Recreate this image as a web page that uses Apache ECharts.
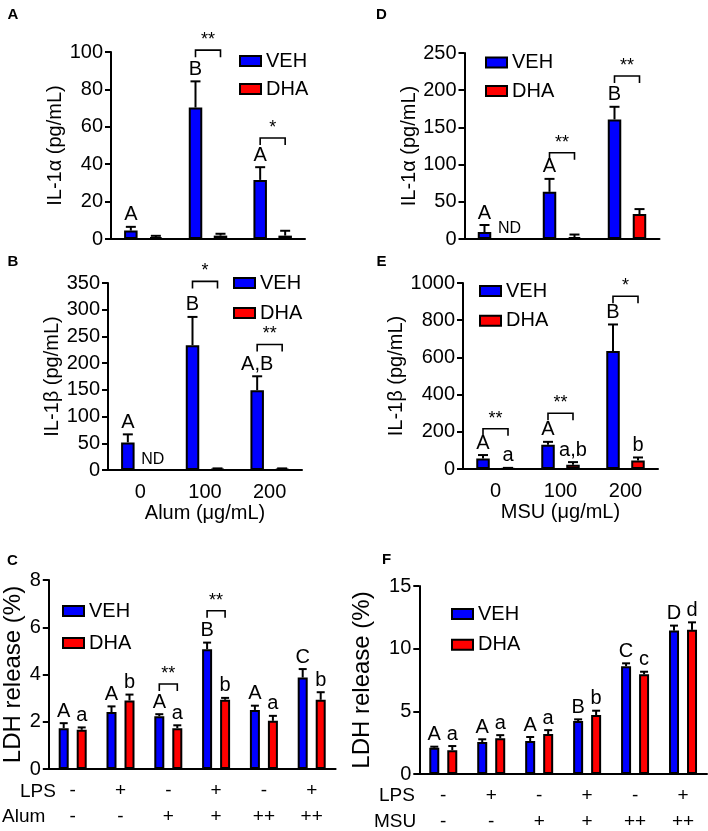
<!DOCTYPE html>
<html><head><meta charset="utf-8">
<script src="https://cdn.jsdelivr.net/npm/echarts@6/dist/echarts.min.js"></script>
<style>html,body{margin:0;padding:0;background:#fff}#c{width:708px;height:831px}</style>
</head><body><div id="c"></div>
<script>
// ---------- data ----------
const doseCats = ['0', '100', '200'];
const lpsRow  = ['-', '+', '-', '+', '-', '+'];
const alumRow = ['-', '-', '+', '+', '++', '++'];
const msuRow  = ['-', '-', '+', '+', '++', '++'];

// A: IL-1α, Alum
const aVeh = [4.5, 70.3, 31.6];
const aVehErr = [2.0, 14.0, 6.8];
const aDha = [1.0, 1.8, 1.8];
const aDhaErr = [0.7, 1.0, 2.6];
const aVehLetters = ['A', 'B', 'A'];
const aDhaLetters = ['', '', ''];
const aSigGroup = [1, 2];
const aSigLevel = [101, 54];
const aSigText = ['**', '*'];

// B: IL-1β, Alum
const bVeh = [51.7, 233.5, 149.4];
const bVehErr = [15, 53, 26];
const bDha = [0, 1.5, 1.5];
const bDhaErr = [0, 1.5, 1.5];
const bVehLetters = ['A', 'B', 'A,B'];
const bDhaLetters = ['ND', '', ''];
const bSigGroup = [1, 2];
const bSigLevel = [353, 235];
const bSigText = ['*', '**'];

// D: IL-1α, MSU
const dVeh = [9.4, 63.4, 160.7];
const dVehErr = [9.4, 17.4, 17];
const dDha = [0, 2.5, 33.5];
const dDhaErr = [0, 3.5, 6.7];
const dVehLetters = ['A', 'A', 'B'];
const dDhaLetters = ['ND', '', ''];
const dSigGroup = [1, 2];
const dSigLevel = [116, 219];
const dSigText = ['**', '**'];

// E: IL-1β, MSU
const eVeh = [57, 130, 634];
const eVehErr = [18, 16, 143];
const eDha = [4, 23, 46];
const eDhaErr = [2, 14, 16];
const eVehLetters = ['A', 'A', 'B'];
const eDhaLetters = ['a', 'a,b', 'b'];
const eSigGroup = [0, 1, 2];
const eSigLevel = [216, 300, 929];
const eSigText = ['**', '**', '*'];

// C: LDH, Alum
const cVeh = [1.73, 2.41, 2.23, 5.07, 2.5, 3.87];
const cVehErr = [0.21, 0.24, 0.09, 0.28, 0.18, 0.36];
const cDha = [1.66, 2.9, 1.73, 2.93, 2.04, 2.93];
const cDhaErr = [0.1, 0.25, 0.12, 0.08, 0.21, 0.32];
const cVehLetters = ['A', 'A', 'A', 'B', 'A', 'C'];
const cDhaLetters = ['a', 'b', 'a', 'b', 'a', 'b'];
const cSigGroup = [2, 3];
const cSigLevel = [3.6, 6.7];
const cSigText = ['**', '**'];

// F: LDH, MSU
const fVeh = [2.1, 2.55, 2.63, 4.23, 8.6, 11.44];
const fVehErr = [0.08, 0.22, 0.32, 0.13, 0.23, 0.4];
const fDha = [1.9, 2.85, 3.19, 4.7, 7.95, 11.5];
const fDhaErr = [0.33, 0.25, 0.31, 0.35, 0.21, 0.6];
const fVehLetters = ['A', 'A', 'A', 'B', 'C', 'D'];
const fDhaLetters = ['a', 'a', 'a', 'b', 'c', 'd'];
const fSigGroup = [];
const fSigLevel = [];
const fSigText = [];

// ---------- styling / layout ----------
const FONT = '"Liberation Sans", Arial, sans-serif';
const BLUE = '#0000ff', RED = '#ff0000';
const idx6 = [0, 1, 2, 3, 4, 5];

const panels = [
  { grid: {left: 111, top: 52, width: 194, height: 187}, max: 100, interval: 20, yname: 'IL-1α (pg/mL)', nameGap: 45, nameSize: 20,
    cats: doseCats, xlabels: false, xname: '', big: true,
    veh: aVeh, vehErr: aVehErr, dha: aDha, dhaErr: aDhaErr, vl: aVehLetters, dl: aDhaLetters, sg: aSigGroup, sl: aSigLevel, st: aSigText,
    legend: {left: 239, top: 51, itemGap: 8} },
  { grid: {left: 108, top: 283, width: 194, height: 187}, max: 350, interval: 50, yname: 'IL-1β (pg/mL)', nameGap: 45, nameSize: 20,
    cats: doseCats, xlabels: true, xname: 'Alum (μg/mL)', big: true,
    veh: bVeh, vehErr: bVehErr, dha: bDha, dhaErr: bDhaErr, vl: bVehLetters, dl: bDhaLetters, sg: bSigGroup, sl: bSigLevel, st: bSigText,
    legend: {left: 233, top: 273, itemGap: 10} },
  { grid: {left: 464.5, top: 53, width: 195, height: 186}, max: 250, interval: 50, yname: 'IL-1α (pg/mL)', nameGap: 40, nameSize: 20,
    cats: doseCats, xlabels: false, xname: '', big: true,
    veh: dVeh, vehErr: dVehErr, dha: dDha, dhaErr: dDhaErr, vl: dVehLetters, dl: dDhaLetters, sg: dSigGroup, sl: dSigLevel, st: dSigText,
    legend: {left: 485, top: 52.5, itemGap: 8.5} },
  { grid: {left: 463, top: 283, width: 195, height: 186}, max: 1000, interval: 200, yname: 'IL-1β (pg/mL)', nameGap: 51, nameSize: 20,
    cats: doseCats, xlabels: true, xname: 'MSU (μg/mL)', big: true,
    veh: eVeh, vehErr: eVehErr, dha: eDha, dhaErr: eDhaErr, vl: eVehLetters, dl: eDhaLetters, sg: eSigGroup, sl: eSigLevel, st: eSigText,
    legend: {left: 479, top: 281, itemGap: 9.7} },
  { grid: {left: 48.8, top: 580, width: 286.8, height: 189}, max: 8, interval: 2, yname: 'LDH release (%)', nameGap: 23, nameSize: 24,
    cats: idx6, xlabels: 'rows', rowA: lpsRow, rowB: alumRow, xname: '', big: false,
    veh: cVeh, vehErr: cVehErr, dha: cDha, dhaErr: cDhaErr, vl: cVehLetters, dl: cDhaLetters, sg: cSigGroup, sl: cSigLevel, st: cSigText,
    legend: {left: 62, top: 601, itemGap: 12} },
  { grid: {left: 419.3, top: 586, width: 287.7, height: 188}, max: 15, interval: 5, yname: 'LDH release (%)', nameGap: 45, nameSize: 24,
    cats: idx6, xlabels: 'rows', rowA: lpsRow, rowB: msuRow, xname: '', big: false,
    veh: fVeh, vehErr: fVehErr, dha: fDha, dhaErr: fDhaErr, vl: fVehLetters, dl: fDhaLetters, sg: fSigGroup, sl: fSigLevel, st: fSigText,
    legend: {left: 451, top: 604, itemGap: 10.7} }
];

function errRender(off, cap, letters) {
  return function (params, api) {
    const cat = api.value(0), m = api.value(1), e = api.value(2);
    const base = api.coord([cat, m]);
    const top = api.coord([cat, m + e]);
    const x = base[0] + off;
    const ch = [];
    if (e > 0) {
      ch.push({type: 'line', shape: {x1: x, y1: base[1], x2: x, y2: top[1]}, style: {stroke: '#000', lineWidth: 2}});
      ch.push({type: 'line', shape: {x1: x - cap / 2, y1: top[1], x2: x + cap / 2, y2: top[1]}, style: {stroke: '#000', lineWidth: 2}});
    }
    const lab = letters[params.dataIndex];
    if (lab) {
      const isND = lab === 'ND';
      ch.push({type: 'text', style: {text: lab, x: x, y: top[1] - 2, align: 'center', verticalAlign: 'bottom',
        fontSize: isND ? 16 : 20, fontFamily: FONT, fill: '#000', lineHeight: isND ? 16 : 20}});
    }
    return {type: 'group', children: ch};
  };
}
function sigRender(off, texts) {
  return function (params, api) {
    const c = api.coord([api.value(0), api.value(1)]);
    const xl = c[0] - off, xr = c[0] + off, y = c[1];
    return {type: 'group', children: [
      {type: 'polyline', shape: {points: [[xl, y + 7], [xl, y], [xr, y], [xr, y + 7]]}, style: {stroke: '#000', lineWidth: 1.6, fill: null}},
      {type: 'text', style: {text: texts[params.dataIndex], x: c[0], y: y - 1, align: 'center', verticalAlign: 'bottom',
        fontSize: 18, fontFamily: FONT, fill: '#000', lineHeight: 18}}
    ]};
  };
}

const option = {
  animation: false,
  backgroundColor: '#fff',
  textStyle: {fontFamily: FONT},
  grid: [], xAxis: [], yAxis: [], series: [], legend: [],
  graphic: []
};

panels.forEach((p, i) => {
  const bw = p.big ? 13.5 : 10;
  const gap = p.big ? '85%' : '80%';
  const off = p.big ? 12.5 : 9;
  const cap = p.big ? 10 : 8;
  option.grid.push(Object.assign({outerBoundsMode: 'none', containLabel: false}, p.grid));
  const xa = {
    type: 'category', gridIndex: i, data: p.cats,
    axisLine: {lineStyle: {color: '#000', width: 2}},
    axisTick: {alignWithLabel: true, length: 6, lineStyle: {color: '#000', width: 2}},
    axisLabel: {show: !!p.xlabels, interval: 0, color: '#000', fontSize: 20, fontFamily: FONT, margin: 12}
  };
  if (p.xlabels === 'rows') {
    const ra = p.rowA, rb = p.rowB;
    xa.axisLabel = {show: true, interval: 0, color: '#000', fontSize: 19, fontFamily: FONT, margin: 9, lineHeight: 26,
      formatter: (v, k) => ra[k] + '\n' + rb[k]};
  }
  if (p.xname) {
    xa.name = p.xname; xa.nameLocation = 'middle'; xa.nameGap = 33;
    xa.nameTextStyle = {color: '#000', fontSize: 20, fontFamily: FONT};
  }
  option.xAxis.push(xa);
  option.yAxis.push({
    type: 'value', gridIndex: i, min: 0, max: p.max, interval: p.interval,
    axisLine: {show: true, lineStyle: {color: '#000', width: 2}},
    axisTick: {show: true, length: 6, lineStyle: {color: '#000', width: 2}},
    axisLabel: {color: '#000', fontSize: 20, fontFamily: FONT, margin: 8, formatter: v => String(v)},
    splitLine: {show: false},
    name: p.yname, nameLocation: 'middle', nameGap: p.nameGap,
    nameTextStyle: {color: '#000', fontSize: p.nameSize, fontFamily: FONT}
  });
  option.series.push({type: 'bar', name: 'VEH', xAxisIndex: i, yAxisIndex: i, data: p.veh, barWidth: bw, barGap: gap,
    itemStyle: {color: BLUE, borderColor: '#000', borderWidth: 2}, z: 2});
  option.series.push({type: 'bar', name: 'DHA', xAxisIndex: i, yAxisIndex: i, data: p.dha, barWidth: bw, barGap: gap,
    itemStyle: {color: RED, borderColor: '#000', borderWidth: 2}, z: 2});
  option.series.push({type: 'custom', xAxisIndex: i, yAxisIndex: i, z: 5, silent: true,
    data: p.veh.map((v, k) => [k, v, p.vehErr[k]]), renderItem: errRender(-off, cap, p.vl)});
  option.series.push({type: 'custom', xAxisIndex: i, yAxisIndex: i, z: 5, silent: true,
    data: p.dha.map((v, k) => [k, v, p.dhaErr[k]]), renderItem: errRender(off, cap, p.dl)});
  if (p.sg.length) {
    option.series.push({type: 'custom', xAxisIndex: i, yAxisIndex: i, z: 5, silent: true,
      data: p.sg.map((g, k) => [g, p.sl[k]]), renderItem: sigRender(off, p.st)});
  }
  option.legend.push({
    left: p.legend.left, top: p.legend.top, orient: 'vertical', itemWidth: 21, itemHeight: 10, itemGap: p.legend.itemGap,
    data: ['VEH', 'DHA'], icon: 'rect', selectedMode: false, padding: 0,
    itemStyle: {borderColor: '#000', borderWidth: 2},
    textStyle: {fontSize: 20, fontFamily: FONT, color: '#000', lineHeight: 18}
  });
});

// panel letters and row labels
const txt = (t, x, y, size, bold, align) => ({type: 'text', x: x, y: y, silent: true,
  style: {text: t, fontSize: size, fontWeight: bold ? 'bold' : 'normal', fontFamily: FONT, fill: '#000',
    align: align || 'center', verticalAlign: 'middle'}});
option.graphic.push(
  txt('A', 13, 15, 15, true), txt('B', 13, 262, 15, true), txt('C', 12.5, 561, 15, true),
  txt('D', 381.5, 15, 15, true), txt('E', 381.5, 262, 15, true), txt('F', 386.5, 560, 15, true),
  txt('LPS', 20, 792, 19, false, 'left'), txt('Alum', 2, 817, 19, false, 'left'),
  txt('LPS', 379, 796, 19, false, 'left'), txt('MSU', 374, 821.5, 19, false, 'left')
);

const chart = echarts.init(document.getElementById('c'), null, {renderer: 'canvas'});
chart.setOption(option);
</script>
</body></html>
